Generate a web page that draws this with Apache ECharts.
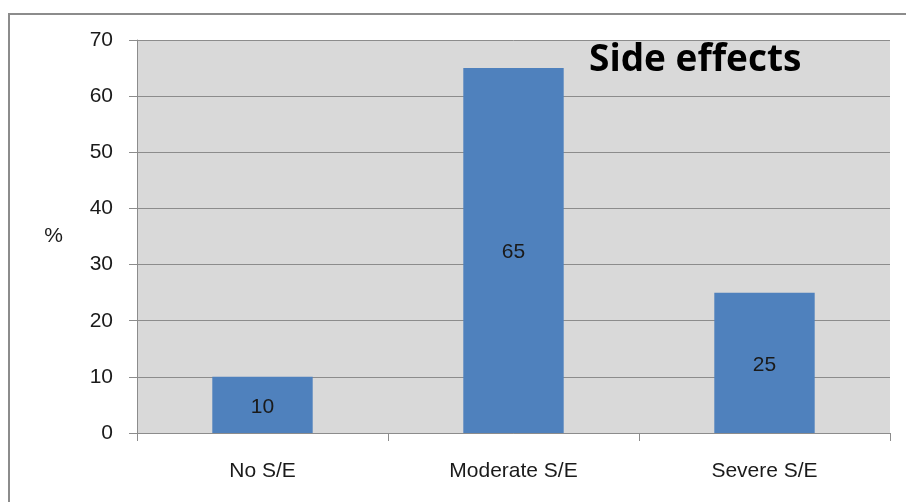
<!DOCTYPE html>
<html>
<head>
<meta charset="utf-8">
<script src="https://cdn.jsdelivr.net/npm/echarts@6/dist/echarts.min.js"></script>
<style>
html,body{margin:0;padding:0;background:#fff;}
#c{width:906px;height:502px;}
</style>
</head>
<body>
<div id="c"></div>
<script>
const categories = ['No S/E', 'Moderate S/E', 'Severe S/E'];
const values = [10, 65, 25];
const yTicks = [0, 10, 20, 30, 40, 50, 60, 70];
const titleText = 'Side effects';
const yName = '%';

const chart = echarts.init(document.getElementById('c'), null, {renderer: 'canvas'});
chart.setOption({
  animation: false,
  backgroundColor: '#ffffff',
  graphic: [{
    type: 'rect',
    shape: {x: 9, y: 14, width: 1000, height: 1000},
    style: {fill: 'none', stroke: '#8c8c8c', lineWidth: 2},
    silent: true, z: -1
  }],
  title: {
    text: titleText,
    left: 589, top: 42,
    padding: 0,
    textStyle: {fontFamily: 'Open Sans', fontWeight: 'bold', fontSize: 37, color: '#000'}
  },
  grid: {
    left: 137, right: 16, top: 40, bottom: 69,
    show: true, backgroundColor: '#d9d9d9', borderWidth: 0
  },
  xAxis: {
    type: 'category',
    data: categories,
    axisLine: {show: true, lineStyle: {color: '#8c8c8c', width: 1}},
    axisTick: {show: true, length: 8, lineStyle: {color: '#8c8c8c'}},
    axisLabel: {margin: 28, fontFamily: 'Liberation Sans', fontSize: 21, color: '#1a1a1a'},
    splitLine: {show: false}
  },
  yAxis: {
    type: 'value',
    min: yTicks[0], max: yTicks[yTicks.length - 1], interval: 10,
    name: yName,
    nameLocation: 'middle',
    nameRotate: 0,
    nameGap: 74,
    nameTextStyle: {fontFamily: 'Liberation Sans', fontSize: 21, color: '#1a1a1a'},
    axisLine: {show: true, lineStyle: {color: '#8c8c8c', width: 1}},
    axisTick: {show: true, length: 8, lineStyle: {color: '#8c8c8c'}},
    axisLabel: {margin: 24, fontFamily: 'Liberation Sans', fontSize: 21, color: '#1a1a1a'},
    splitLine: {show: true, lineStyle: {color: '#8c8c8c', width: 1}}
  },
  series: [{
    type: 'bar',
    data: values,
    barWidth: '40%',
    itemStyle: {color: '#4f81bd'},
    label: {
      show: true, position: 'inside', offset: [0, 2],
      fontFamily: 'Liberation Sans', fontSize: 21, color: '#1a1a1a'
    }
  }]
});
</script>
</body>
</html>
